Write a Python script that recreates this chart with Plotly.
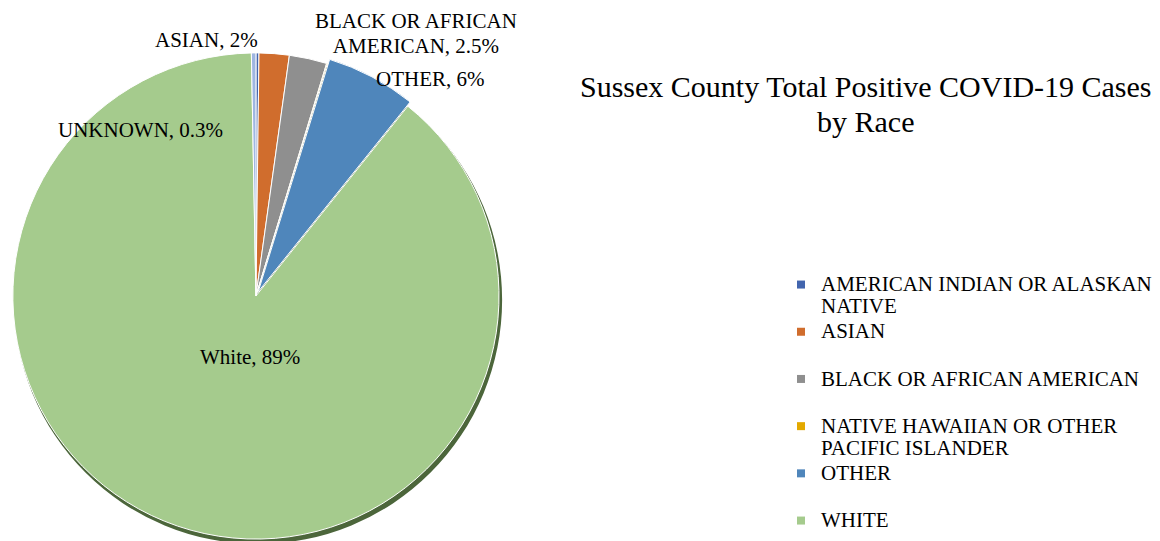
import plotly.graph_objects as go

# ---- data ----
categories = ["AMERICAN INDIAN OR ALASKAN NATIVE", "ASIAN", "BLACK OR AFRICAN AMERICAN",
              "NATIVE HAWAIIAN OR OTHER PACIFIC ISLANDER", "OTHER", "WHITE", "UNKNOWN"]
percent = [0.2, 2, 2.5, 0.05, 6, 89, 0.3]
legend_lines = [["AMERICAN INDIAN OR ALASKAN", "NATIVE"], ["ASIAN", " "],
                ["BLACK OR AFRICAN AMERICAN", " "], ["NATIVE HAWAIIAN OR OTHER", "PACIFIC ISLANDER"],
                ["OTHER", " "], ["WHITE"]]
label_names = [None, "ASIAN", "BLACK OR AFRICAN<br>AMERICAN", None, "OTHER", "White", "UNKNOWN"]
label_pct = ["0.2%", "2%", "2.5%", "0.05%", "6%", "89%", "0.3%"]
colors = ["#4265AE", "#D06D2D", "#8F8F8F", "#E3A900", "#4F86BB", "#A5CB8D", "#9FB6E2"]
pulls = [0, 0, 0, 0, 0.02, 0, 0]
title_lines = ["Sussex County Total Positive COVID-19 Cases", "by Race"]

W, H = 1160, 541
OFF = 8  # page body margin offset
FONT = "Liberation Serif, Times New Roman, serif"

# geometry (pixels, in page coordinates)
cx, cy, r = 255 - OFF, 296 - OFF, 244
maxpull = max(pulls)
R = r * (1 + maxpull)


def dom(cxp, cyp, rad):
    return dict(x=[max(0, (cxp - rad) / W), min(1, (cxp + rad) / W)],
                y=[max(0, (H - cyp - rad) / H), min(1, (H - cyp + rad) / H)])


def big(s, size):
    return f'<span style="font-size:{size}px">{s}</span>'


fig = go.Figure()

# shadow
fig.add_trace(go.Pie(values=[1], labels=["shadow"], domain=dom(cx + 3, cy + 4, r),
                     marker=dict(colors=["#4C663B"]), textinfo="none", hoverinfo="skip",
                     showlegend=False, sort=False))

# main pie
fig.add_trace(go.Pie(values=percent, labels=categories, domain=dom(cx, cy, R),
                     sort=False, direction="clockwise", rotation=0, pull=pulls,
                     marker=dict(colors=colors, line=dict(color="white", width=1)),
                     textinfo="none", showlegend=False))

# legend entries
for lines, col in zip(legend_lines, colors[:6]):
    name = "<br>".join(big(l, 21) for l in lines)
    fig.add_trace(go.Scatter(x=[None], y=[None], mode="markers", name=name,
                             marker=dict(symbol="square", size=8, color=col)))

# data labels
label_pos = {1: (206, 40), 2: (416, 33), 4: (430, 79), 5: (250, 357), 6: (140, 130)}
annotations = []
for i, (px, py) in label_pos.items():
    txt = "<br>".join(big(t, 21) for t in f"{label_names[i]}, {label_pct[i]}".split("<br>"))
    annotations.append(dict(x=(px - OFF) / W, y=1 - (py - OFF) / H, xref="paper", yref="paper",
                            text=txt, showarrow=False,
                            xanchor="center", yanchor="middle",
                            font=dict(family=FONT, size=19, color="#000000")))

# title
annotations.append(dict(x=(866 - OFF) / W, y=1 - (104 - OFF) / H, xref="paper", yref="paper",
                        text="<br>".join(big(t, 30) for t in title_lines),
                        showarrow=False, xanchor="center", yanchor="middle",
                        font=dict(family=FONT, size=27, color="#000000")))

fig.update_layout(
    width=W, height=H, margin=dict(l=0, r=0, t=0, b=0, autoexpand=False),
    paper_bgcolor="white", plot_bgcolor="white",
    xaxis=dict(visible=False), yaxis=dict(visible=False),
    annotations=annotations,
    legend=dict(x=(821 - 40 - OFF) / W, y=1 - (267 - OFF) / H, xanchor="left", yanchor="top",
                valign="top", font=dict(family=FONT, size=17, color="#000000"),
                bgcolor="rgba(0,0,0,0)"),
)

fig.write_html("out.html")
